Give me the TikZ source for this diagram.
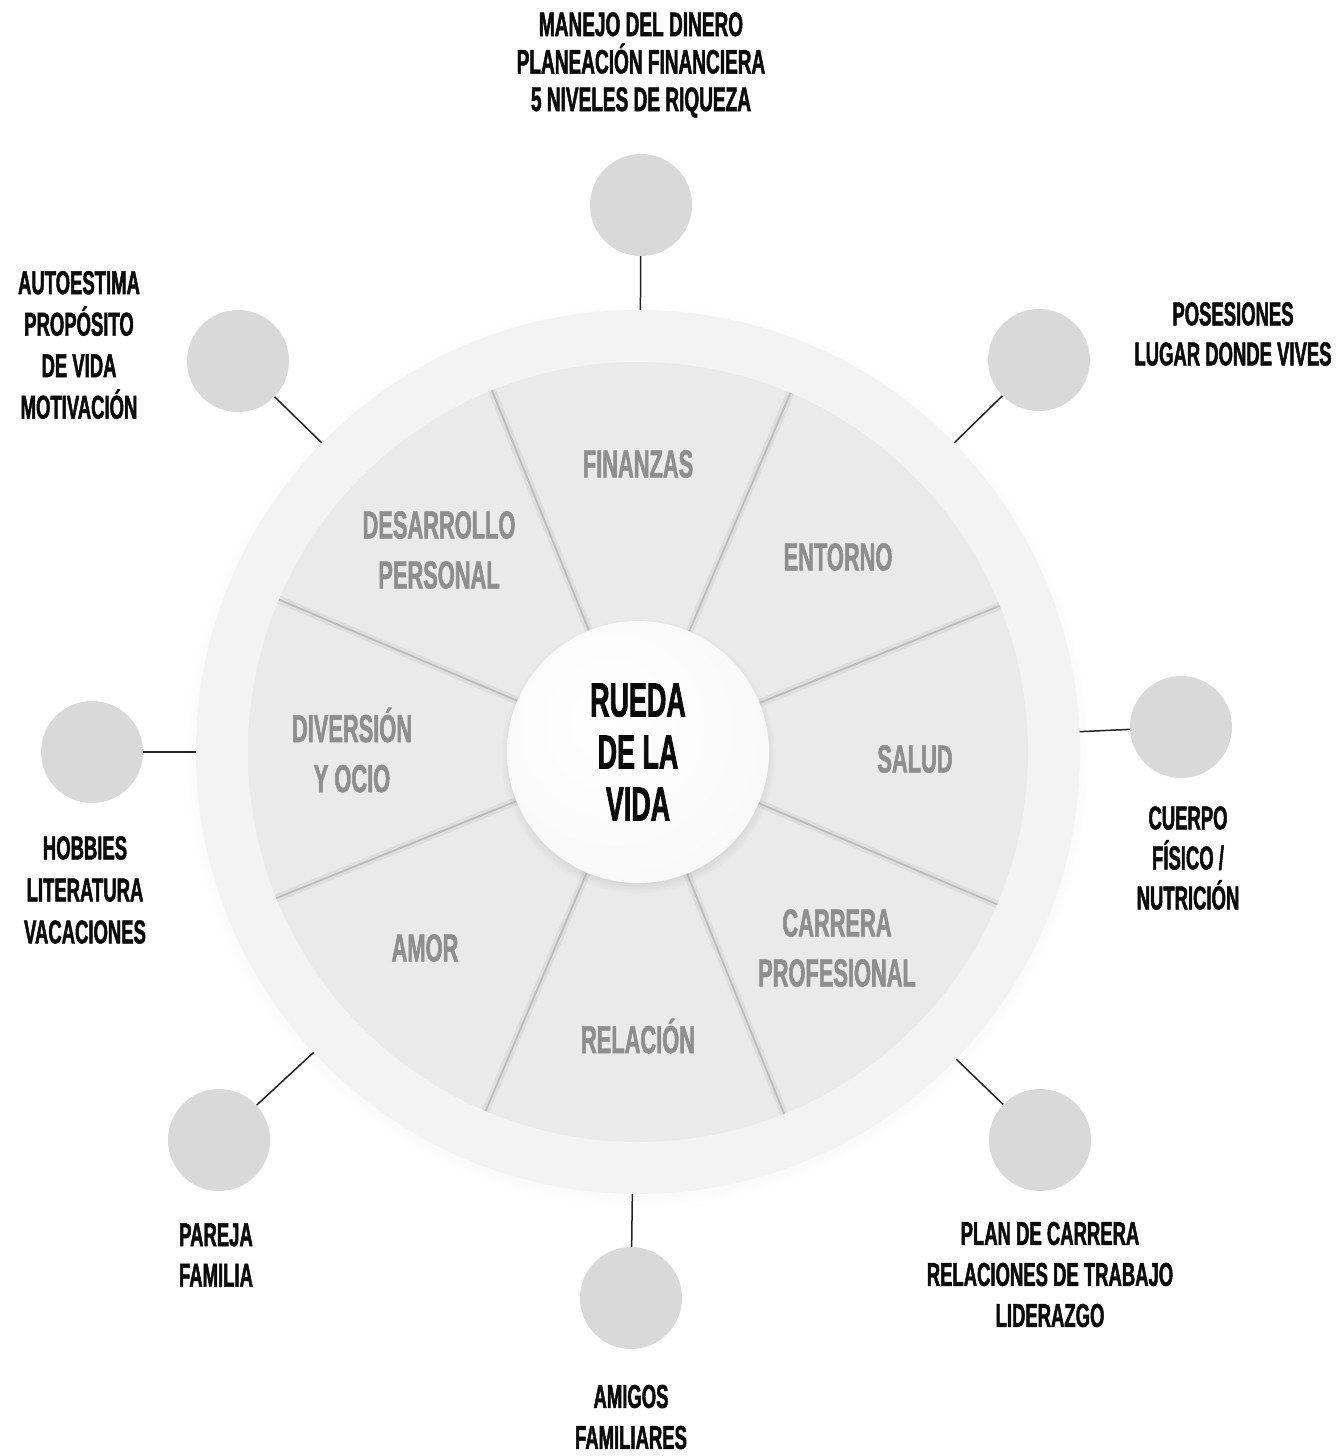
\documentclass[tikz,border=0pt]{standalone}
\usepackage{fontspec}
\newfontfamily\cond{Liberation Sans}[FakeStretch=0.56, FakeBold=1.4]
\usetikzlibrary{shadows}
\definecolor{ringc}{HTML}{F3F3F3}
\definecolor{wA}{HTML}{EAEAEA}
\definecolor{wB}{HTML}{E2E2E2}
\definecolor{wC}{HTML}{D2D2D2}
\definecolor{wD}{HTML}{BEBEBE}
\definecolor{hubA}{HTML}{F8F8F8}
\definecolor{hubB}{HTML}{EBEBEB}
\definecolor{bubgray}{HTML}{D9D9D9}
\definecolor{seggray}{HTML}{8E8E8E}
\definecolor{labblack}{HTML}{0A0A0A}
\definecolor{groovec}{HTML}{BDBDBD}
\definecolor{linkc}{HTML}{222222}
\pgfdeclareradialshading{wheelsh}{\pgfpoint{0bp}{0bp}}{color(0bp)=(wA); color(33bp)=(wA); color(43bp)=(wB); color(48bp)=(wC); color(50bp)=(wD); color(100bp)=(wD)}
\pgfdeclareradialshading{hubsh}{\pgfpoint{-6bp}{6bp}}{color(0bp)=(white); color(35bp)=(hubA); color(58bp)=(hubB); color(100bp)=(hubB)}
\tikzset{
  lab/.style 2 args={font=\cond\bfseries\fontsize{#1}{#2}\selectfont, align=center, inner sep=0pt, text=labblack},
  seglabel/.style={font=\cond\bfseries\fontsize{39}{50}\selectfont, align=center, inner sep=0pt, text=seggray},
  bub/.style={circle, fill=bubgray, minimum size=102pt, inner sep=0pt},
  linkline/.style={draw=linkc, line width=1.5pt},
  groovesoft/.style={draw=black, opacity=0.05, line width=8pt},
  groove/.style={draw=groovec, line width=1.8pt}
}
\begin{document}
\begin{tikzpicture}[x=1pt, y=-1pt]
\fill[white] (0,0) rectangle (1343,1456);
\useasboundingbox (0,0) rectangle (1343,1456);

% wheel
\node[circle, minimum size=884pt, inner sep=0pt, fill=ringc,
  circular drop shadow={shadow xshift=0pt, shadow yshift=-3pt, shadow scale=1.02, opacity=0.2}] (ring) at (638,752) {};
\node[circle, minimum size=780pt, inner sep=0pt, shading=wheelsh] (wheel) at (638,752) {};
\foreach \a in {22.5,67.5,...,337.5} {
  \draw[groovesoft] (wheel.center) -- (wheel.\a);
  \draw[groove] (wheel.center) -- (wheel.\a);
}
\node[circle, minimum size=262pt, inner sep=0pt, shading=hubsh,
  circular drop shadow={shadow xshift=0pt, shadow yshift=-4pt, shadow scale=1.05, opacity=0.3},
  font=\cond\bfseries\fontsize{48}{52}\selectfont, align=center, text=labblack] (hub) at (638,752) {RUEDA\\DE LA\\VIDA};

% segment labels
\node[seglabel] (sFin) at (638,464) {FINANZAS};
\node[seglabel] (sEnt) at (838,557) {ENTORNO};
\node[seglabel] (sSal) at (915,759) {SALUD};
\node[seglabel] (sCar) at (837,948) {CARRERA\\PROFESIONAL};
\node[seglabel] (sRel) at (638,1036) {RELACIÓN};
\node[seglabel] (sAmo) at (425,948) {AMOR};
\node[seglabel] (sDiv) at (352,750) {DIVERSIÓN\\Y OCIO};
\node[seglabel] (sDes) at (439,550) {DESARROLLO\\PERSONAL};

% bubbles
\node[bub] (bT) at (641,205) {};
\node[bub] (bTL) at (238,361) {};
\node[bub] (bTR) at (1039,360) {};
\node[bub] (bR) at (1181,727) {};
\node[bub] (bL) at (92,752) {};
\node[bub] (bBL) at (219,1140) {};
\node[bub] (bBR) at (1040,1140) {};
\node[bub] (bB) at (631,1298) {};
\foreach \b in {bT,bTL,bTR,bR,bL,bBL,bBR,bB} \draw[linkline] (\b) -- (ring);

% outer labels
\node[lab={34}{37.5}] (tT) at (641,65) {MANEJO DEL DINERO\\PLANEACIÓN FINANCIERA\\5 NIVELES DE RIQUEZA};
\node[lab={33}{41.5}] (tTL) at (79,345) {AUTOESTIMA\\PROPÓSITO\\DE VIDA\\MOTIVACIÓN};
\node[lab={33}{40}] (tTR) at (1233,334) {POSESIONES\\LUGAR DONDE VIVES};
\node[lab={33}{40}] (tR) at (1188,858) {CUERPO\\FÍSICO /\\NUTRICIÓN};
\node[lab={33}{42}] (tL) at (85,890) {HOBBIES\\LITERATURA\\VACACIONES};
\node[lab={33}{40.5}] (tBL) at (216,1255) {PAREJA\\FAMILIA};
\node[lab={33}{41}] (tBR) at (1050,1274.5) {PLAN DE CARRERA\\RELACIONES DE TRABAJO\\LIDERAZGO};
\node[lab={33}{41}] (tB) at (631,1417) {AMIGOS\\FAMILIARES};
\end{tikzpicture}
\end{document}
